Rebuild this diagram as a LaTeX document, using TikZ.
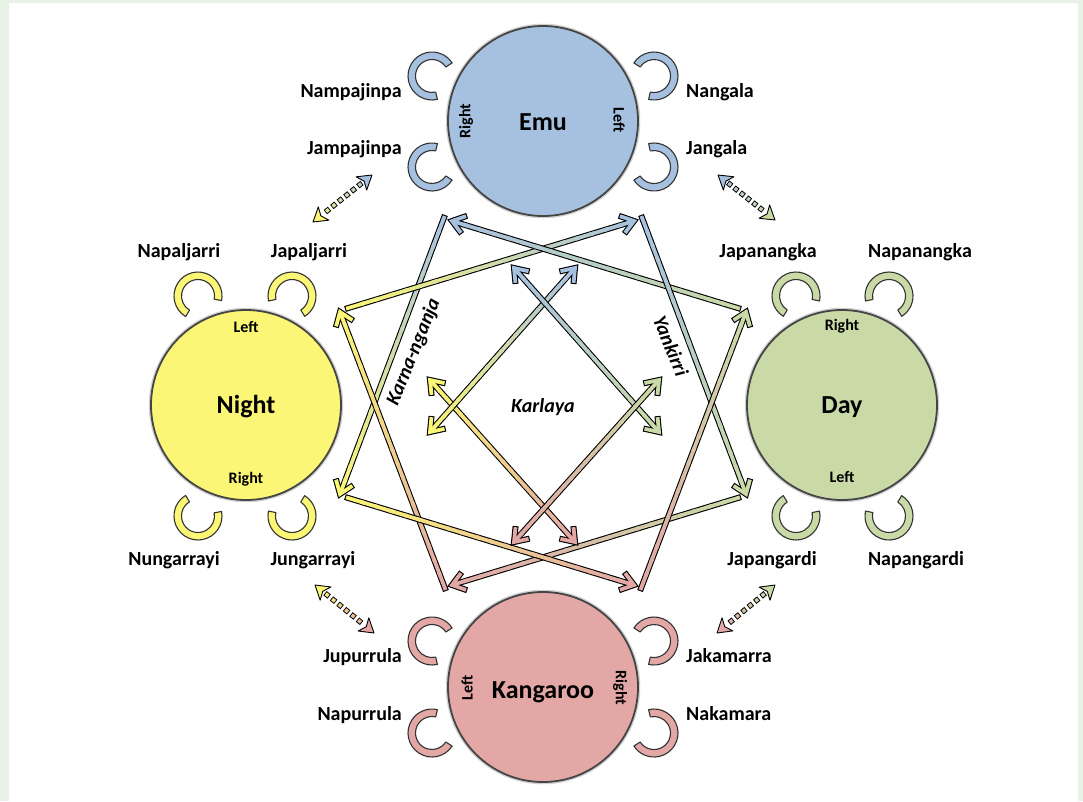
\documentclass[tikz,border=0pt]{standalone}
\usepackage{fontspec}
\setmainfont{Carlito}
\usetikzlibrary{calc}
\definecolor{emuC}{HTML}{A6C1E0}
\definecolor{nightC}{HTML}{FBF676}
\definecolor{dayC}{HTML}{CADAA7}
\definecolor{kanC}{HTML}{E3A7A6}
\definecolor{frameC}{HTML}{E9F2E6}
\definecolor{rimC}{HTML}{454545}

\tikzset{
  namelbl/.style={font=\fontsize{20}{24}\selectfont\bfseries, inner sep=0pt},
  biglbl/.style={font=\fontsize{26}{30}\selectfont\bfseries, inner sep=0pt},
  sidelbl/.style={font=\fontsize{16}{19}\selectfont\bfseries, inner sep=0pt},
  itlbl/.style={font=\fontsize{20}{24}\selectfont\bfseries\itshape, inner sep=0pt},
  groupcirc/.style={circle, minimum size=190pt, inner sep=0pt, line width=1.8pt, draw=rimC},
  brk/.style={line width=1.1pt, draw=black!80, line join=round},
  outl/.style={line width=6pt, draw=black, line cap=butt, line join=miter},
  fillw/.style={line width=3.8pt, line cap=butt, line join=miter},
}

% gradient coloured core of a shaft
\newcommand{\gradline}[4]{%
  \foreach \i in {0,...,19}{
    \pgfmathsetmacro\ta{\i/20}
    \pgfmathsetmacro\tb{min((\i+1.3)/20,1)}
    \pgfmathtruncatemacro\pc{100-5*\i-2}
    \draw[fillw, draw={#3!\pc!#4}] ($(#1)!\ta!(#2)$) -- ($(#1)!\tb!(#2)$);
  }}

% open chevron head: black pass / colour pass
\newcommand{\headblack}[2]{% tip #1, towards #2
  \draw[outl] ($(#1)!16pt!36:(#2)$) -- (#1) -- ($(#1)!16pt!-36:(#2)$);}
\newcommand{\headcol}[3]{%
  \draw[fillw, draw=#3] ($(#1)!14.9pt!36:(#2)$) -- (#1) -- ($(#1)!14.9pt!-36:(#2)$);}

% one-headed arrow: plain end #1, tip #2
\newcommand{\arrowone}[4]{%
  \draw[outl] (#1) -- (#2);
  \headblack{#2}{#1}
  \gradline{$(#1)!1.1pt!(#2)$}{$(#2)!1.5pt!(#1)$}{#3}{#4}
  \headcol{#2}{#1}{#4}}

% two-headed arrow
\newcommand{\arrowtwo}[4]{%
  \draw[outl] (#1) -- (#2);
  \headblack{#1}{#2}
  \headblack{#2}{#1}
  \gradline{$(#1)!1.5pt!(#2)$}{$(#2)!1.5pt!(#1)$}{#3}{#4}
  \headcol{#1}{#2}{#3}
  \headcol{#2}{#1}{#4}}

% dashed two-headed arrow
\newcommand{\dhead}[3]{%
  \filldraw[fill=#3, draw=black, line width=0.9pt, line join=round]
    (#1) -- ($(#1)!16pt!32:(#2)$) -- ($(#1)!10pt!(#2)$) -- ($(#1)!16pt!-32:(#2)$) -- cycle;}
\newcommand{\dasharrow}[4]{%
  \foreach \k in {0,...,5}{
    \pgfmathsetmacro\sa{0.17+\k*0.11}
    \pgfmathsetmacro\sb{\sa+0.07}
    \pgfmathtruncatemacro\pc{100*(1-\sa-0.035)}
    \draw[line width=5.4pt, line cap=butt] ($(#1)!\sa!(#2)$) -- ($(#1)!\sb!(#2)$);
    \draw[line width=3.5pt, line cap=butt, draw={#3!\pc!#4}, shorten <=0.9pt, shorten >=0.9pt]
      ($(#1)!\sa!(#2)$) -- ($(#1)!\sb!(#2)$);
  }
  \dhead{#1}{#2}{#3}
  \dhead{#2}{#1}{#4}}

% C-shaped bracket, gap facing direction #3
\newcommand{\bracket}[4]{%
  \draw[brk, fill=#4] ($(#1,#2)+(#3+55:24)$) arc[start angle=#3+55, end angle=#3+305, radius=24]
    -- ($(#1,#2)+(#3+305:16.5)$) arc[start angle=#3+305, end angle=#3+55, radius=16.5] -- cycle;}

\begin{document}
\begin{tikzpicture}[x=1pt,y=-1pt]
\useasboundingbox (0,0) rectangle (1083,801);
\fill[frameC] (0,0) rectangle (1083,801);
\fill[white] (9,3) rectangle (1078,801);

% group circles
\foreach \n/\x/\y/\c in {emu/543/121/emuC, night/246/405/nightC, day/842/405/dayC, kang/543/687/kanC}{
  \draw[black, opacity=0.18, line width=4.5pt] (\x,\y) circle[radius=95];
  \node[groupcirc, fill=\c] (\n) at (\x,\y) {};
}

% brackets
\bracket{432}{76}{22}{emuC}
\bracket{432}{167}{-22}{emuC}
\bracket{654}{76}{158}{emuC}
\bracket{654}{167}{202}{emuC}
\bracket{432}{641}{22}{kanC}
\bracket{432}{733}{-22}{kanC}
\bracket{654}{641}{158}{kanC}
\bracket{654}{733}{202}{kanC}
\bracket{198}{296}{66}{nightC}
\bracket{292}{296}{113}{nightC}
\bracket{198}{516}{-66}{nightC}
\bracket{292}{516}{247}{nightC}
\bracket{796}{296}{67}{dayC}
\bracket{889}{296}{113}{dayC}
\bracket{796}{516}{-67}{dayC}
\bracket{889}{516}{247}{dayC}

% circle labels
\node[biglbl, anchor=base] (lemu) at (543,130) {Emu};
\node[biglbl, anchor=base] (lnight) at (246,413) {Night};
\node[biglbl, anchor=base] (lday) at (842,413) {Day};
\node[biglbl, anchor=base] (lkang) at (543,698) {Kangaroo};
\node[sidelbl, rotate=90] (emuR) at (466,121) {Right};
\node[sidelbl, rotate=-90] (emuL) at (619,120) {Left};
\node[sidelbl, rotate=90] (kanL) at (467,688) {Left};
\node[sidelbl, rotate=-90] (kanR) at (620,688) {Right};
\node[sidelbl, anchor=base] (nightL) at (246,332) {Left};
\node[sidelbl, anchor=base] (nightR) at (246,483) {Right};
\node[sidelbl, anchor=base] (dayR) at (842,330) {Right};
\node[sidelbl, anchor=base] (dayL) at (842,482) {Left};

% skin names
\node[namelbl, anchor=base east] (n1) at (402,97) {Nampajinpa};
\node[namelbl, anchor=base east] (n2) at (402,154) {Jampajinpa};
\node[namelbl, anchor=base west] (n3) at (686,97) {Nangala};
\node[namelbl, anchor=base west] (n4) at (686,154) {Jangala};
\node[namelbl, anchor=base east] (n5) at (402,662) {Jupurrula};
\node[namelbl, anchor=base east] (n6) at (402,720) {Napurrula};
\node[namelbl, anchor=base west] (n7) at (686,662) {Jakamarra};
\node[namelbl, anchor=base west] (n8) at (686,720) {Nakamara};
\node[namelbl, anchor=base] (n9) at (179,257) {Napaljarri};
\node[namelbl, anchor=base] (n10) at (309,257) {Japaljarri};
\node[namelbl, anchor=base] (n11) at (174,565) {Nungarrayi};
\node[namelbl, anchor=base] (n12) at (313,565) {Jungarrayi};
\node[namelbl, anchor=base] (n13) at (768,257) {Japanangka};
\node[namelbl, anchor=base] (n14) at (920,257) {Napanangka};
\node[namelbl, anchor=base] (n15) at (772,565) {Japangardi};
\node[namelbl, anchor=base] (n16) at (916,565) {Napangardi};

% arrow end points
\coordinate (o1s) at (445,215); \coordinate (o1t) at (340,494);
\coordinate (o2s) at (446,591); \coordinate (o2t) at (340,312);
\coordinate (o3s) at (345,309); \coordinate (o3t) at (634,221);
\coordinate (o4s) at (741,309); \coordinate (o4t) at (452,221);
\coordinate (o5s) at (641,215); \coordinate (o5t) at (746,494);
\coordinate (o6s) at (741,497); \coordinate (o6t) at (452,585);
\coordinate (o7s) at (640,591); \coordinate (o7t) at (746,312);
\coordinate (o8s) at (345,497); \coordinate (o8t) at (634,585);
\coordinate (iA1) at (430,380); \coordinate (iA2) at (575,542);
\coordinate (iB1) at (575,268); \coordinate (iB2) at (430,432);
\coordinate (iC1) at (514,268); \coordinate (iC2) at (659,432);
\coordinate (iD1) at (659,380); \coordinate (iD2) at (514,542);
\coordinate (dA1) at (372,175); \coordinate (dA2) at (313,222);
\coordinate (dB1) at (718,175); \coordinate (dB2) at (775,220);
\coordinate (dC1) at (315,585); \coordinate (dC2) at (374,633);
\coordinate (dD1) at (775,585); \coordinate (dD2) at (717,633);

% outer (Karna-nganja / Yankirri) arrows
\arrowone{o1s}{o1t}{emuC}{nightC}
\arrowone{o2s}{o2t}{kanC}{nightC}
\arrowone{o3s}{o3t}{nightC}{emuC}
\arrowone{o4s}{o4t}{dayC}{emuC}
\arrowone{o5s}{o5t}{emuC}{dayC}
\arrowone{o6s}{o6t}{dayC}{kanC}
\arrowone{o7s}{o7t}{kanC}{dayC}
\arrowone{o8s}{o8t}{nightC}{kanC}

% inner (Karlaya) arrows
\arrowtwo{iA1}{iA2}{nightC}{kanC}
\arrowtwo{iB1}{iB2}{emuC}{nightC}
\arrowtwo{iC1}{iC2}{emuC}{dayC}
\arrowtwo{iD1}{iD2}{dayC}{kanC}

% dashed arrows
\dasharrow{dA1}{dA2}{emuC}{nightC}
\dasharrow{dB1}{dB2}{emuC}{dayC}
\dasharrow{dC1}{dC2}{nightC}{kanC}
\dasharrow{dD1}{dD2}{dayC}{kanC}

% relation labels
\node[itlbl, anchor=base] (karlaya) at (543,412) {Karlaya};
\node[itlbl, rotate=68] (karna) at (414,352) {Karna-nganja};
\node[itlbl, rotate=-68] (yankirri) at (671,346) {Yankirri};
\end{tikzpicture}
\end{document}
